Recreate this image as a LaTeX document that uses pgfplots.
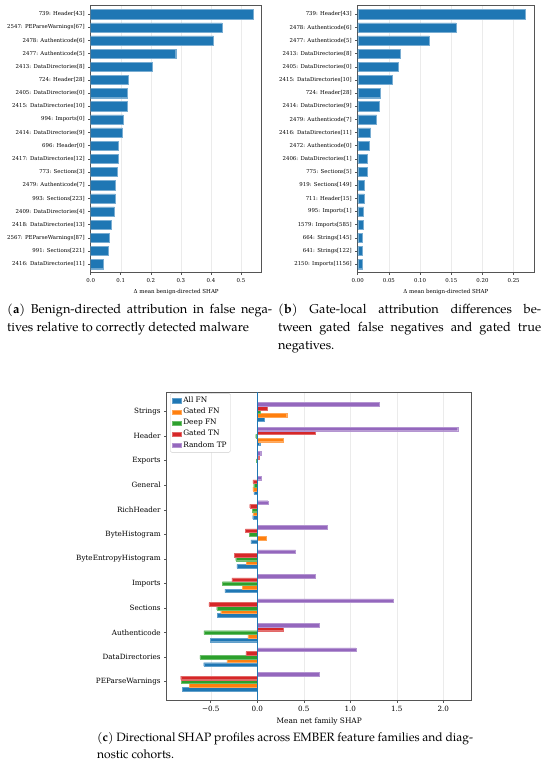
\documentclass[border=0pt]{standalone}
\usepackage{fontspec}
\setmainfont{TeX Gyre Pagella}
\newfontfamily\chartfont{DejaVu Serif}
\usepackage{pgfplots}
\pgfplotsset{compat=1.18}
\usepackage{pgfplotstable}

\definecolor{c0}{HTML}{1F77B4}
\definecolor{c1}{HTML}{FF7F0E}
\definecolor{c2}{HTML}{2CA02C}
\definecolor{c3}{HTML}{D62728}
\definecolor{c4}{HTML}{9467BD}
\definecolor{spine}{HTML}{555555}

% mean net family SHAP per cohort
\pgfplotstableread{
fam                  allfn   gatedfn deepfn  gatedtn randomtp
Strings              0.072   0.316   0.030   0.110   1.309
Header               0.026   0.280  -0.017   0.624   2.155
Exports             -0.003   0.001  -0.010   0.015   0.036
General             -0.036  -0.047  -0.039  -0.047   0.039
RichHeader          -0.050  -0.047  -0.054  -0.082   0.115
ByteHistogram       -0.068   0.093  -0.086  -0.129   0.749
ByteEntropyHistogram -0.219 -0.115  -0.233  -0.244   0.412
Imports             -0.348  -0.161  -0.376  -0.272   0.620
Sections            -0.430  -0.394  -0.437  -0.520   1.462
Authenticode        -0.505  -0.100  -0.573   0.276   0.670
DataDirectories     -0.577  -0.326  -0.616  -0.122   1.061
PEParseWarnings     -0.803  -0.728  -0.820  -0.824   0.667
}\families

\pgfplotsset{
  shap/.style={
    scale only axis, anchor=north west, y dir=reverse,
    axis line style={spine, line width=0.8pt},
    tick style={spine, line width=0.6pt},
    major tick length=2.5pt,
    tick align=outside, xtick pos=bottom, ytick pos=left,
    xmajorgrids, grid style={draw=black!8, line width=0.5pt},
  },
  cbar/.style={xbar, bar width=3.6pt, bar shift=0pt,
    fill=#1, draw=#1!70!white, line width=0.25pt},
}

\hyphenpenalty=10000
\tolerance=9999

\begin{document}
\begin{tikzpicture}
\path[use as bounding box] (0pt,0pt) rectangle (550pt,-772pt);

% (a)
\begin{axis}[shap, at={(90.7pt,-5pt)}, width=171pt, height=267pt,
  xmin=0, xmax=0.569, ymin=-0.7, ymax=19.6,
  xtick={0,0.1,0.2,0.3,0.4,0.5},
  xticklabels={0.0,0.1,0.2,0.3,0.4,0.5},
  ytick={0,1,...,19},
  yticklabels={{739: Header[43]},{2547: PEParseWarnings[67]},{2478: Authenticode[6]},
    {2477: Authenticode[5]},{2413: DataDirectories[8]},{724: Header[28]},
    {2405: DataDirectories[0]},{2415: DataDirectories[10]},{994: Imports[0]},
    {2414: DataDirectories[9]},{696: Header[0]},{2417: DataDirectories[12]},
    {773: Sections[3]},{2479: Authenticode[7]},{993: Sections[223]},
    {2409: DataDirectories[4]},{2418: DataDirectories[13]},{2567: PEParseWarnings[87]},
    {991: Sections[221]},{2416: DataDirectories[11]}},
  tick label style={font=\chartfont\fontsize{5.4}{6}\selectfont},
  xlabel={Δ mean benign-directed SHAP},
  xlabel style={font=\chartfont\fontsize{5.5}{6}\selectfont},
]
\addplot[xbar, bar width=9.2pt, fill=c0, draw=c0!60!white, line width=0.4pt] coordinates {
  (0.541,0) (0.437,1) (0.408,2) (0.283,3) (0.206,4) (0.125,5) (0.122,6)
  (0.121,7) (0.108,8) (0.105,9) (0.093,10) (0.092,11) (0.089,12) (0.083,13)
  (0.082,14) (0.079,15) (0.068,16) (0.061,17) (0.058,18) (0.043,19)
};
\end{axis}

% (b)
\begin{axis}[shap, at={(357.7pt,-5pt)}, width=176.3pt, height=267pt,
  xmin=0, xmax=0.2826, ymin=-0.7, ymax=19.6,
  xtick={0,0.05,0.1,0.15,0.2,0.25},
  xticklabels={0.00,0.05,0.10,0.15,0.20,0.25},
  ytick={0,1,...,19},
  yticklabels={{739: Header[43]},{2478: Authenticode[6]},{2477: Authenticode[5]},
    {2413: DataDirectories[8]},{2405: DataDirectories[0]},{2415: DataDirectories[10]},
    {724: Header[28]},{2414: DataDirectories[9]},{2479: Authenticode[7]},
    {2416: DataDirectories[11]},{2472: Authenticode[0]},{2406: DataDirectories[1]},
    {775: Sections[5]},{919: Sections[149]},{711: Header[15]},{995: Imports[1]},
    {1579: Imports[585]},{664: Strings[145]},{641: Strings[122]},{2150: Imports[1156]}},
  tick label style={font=\chartfont\fontsize{5.4}{6}\selectfont},
  xlabel={Δ mean benign-directed SHAP},
  xlabel style={font=\chartfont\fontsize{5.5}{6}\selectfont},
]
\addplot[xbar, bar width=9.2pt, fill=c0, draw=c0!60!white, line width=0.4pt] coordinates {
  (0.2686,0) (0.1576,1) (0.1148,2) (0.0689,3) (0.0651,4) (0.0550,5) (0.0362,6)
  (0.0346,7) (0.0304,8) (0.0208,9) (0.0186,10) (0.0155,11) (0.0155,12) (0.0112,13)
  (0.0107,14) (0.0096,15) (0.0085,16) (0.0080,17) (0.0075,18) (0.0075,19)
};
\end{axis}

% (c)
\begin{axis}[shap, at={(166.7pt,-392.3pt)}, width=305pt, height=307.7pt,
  xmin=-0.974, xmax=2.305, ymin=-0.79, ymax=11.75,
  xtick={-0.5,0,0.5,1,1.5,2},
  xticklabels={−0.5,0.0,0.5,1.0,1.5,2.0},
  ytick={0,1,...,11},
  yticklabels from table={\families}{fam},
  tick label style={font=\chartfont\fontsize{7.2}{8}\selectfont},
  xlabel={Mean net family SHAP},
  xlabel style={font=\chartfont\fontsize{7.4}{8}\selectfont},
  legend image code/.code={\fill[#1, sharp corners] (0pt,-2.2pt) rectangle (9pt,2.2pt);},
  legend style={at={(0.011,0.997)}, anchor=north west,
    font=\chartfont\fontsize{7.4}{8.6}\selectfont, draw=black!20,
    rounded corners=1.5pt, inner sep=1.8pt, cells={anchor=west}},
]
\addplot[cbar=c0] table[x=allfn, y expr=\coordindex+0.3] {\families};
\addlegendentry{All FN}
\addplot[cbar=c1] table[x=gatedfn, y expr=\coordindex+0.15] {\families};
\addlegendentry{Gated FN}
\addplot[cbar=c2] table[x=deepfn, y expr=\coordindex] {\families};
\addlegendentry{Deep FN}
\addplot[cbar=c3] table[x=gatedtn, y expr=\coordindex-0.15] {\families};
\addlegendentry{Gated TN}
\addplot[cbar=c4] table[x=randomtp, y expr=\coordindex-0.3] {\families};
\addlegendentry{Random TP}
\addplot[c0, line width=0.9pt, forget plot] coordinates {(0,-0.79) (0,11.75)};
\end{axis}

\node[anchor=base west, text width=265pt, align=justify, inner sep=0pt,
  font=\fontsize{12.8}{18}\selectfont] at (7pt,-313pt)
  {(\textbf{a}) Benign-directed attribution in false nega-\linebreak tives relative to correctly detected malware};
\node[anchor=base west, text width=263pt, align=justify, inner sep=0pt,
  font=\fontsize{12.8}{18}\selectfont] at (278pt,-313pt)
  {(\textbf{b}) Gate-local attribution differences be-\linebreak tween gated false negatives and gated true\linebreak negatives.};
\node[anchor=base west, text width=376pt, align=justify, inner sep=0pt,
  font=\fontsize{12.1}{17}\selectfont] at (97pt,-741pt)
  {(\textbf{c}) Directional SHAP profiles across EMBER feature families and diag-\linebreak nostic cohorts.};
\end{tikzpicture}
\end{document}
